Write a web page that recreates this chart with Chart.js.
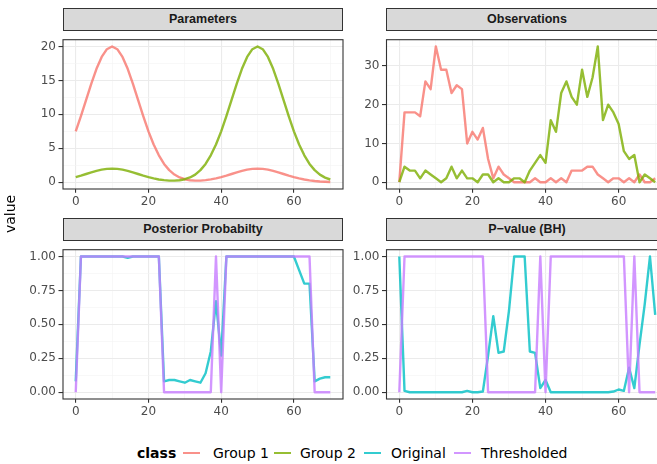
<!DOCTYPE html>
<html>
<head>
<meta charset="utf-8">
<script src="https://cdn.jsdelivr.net/npm/chart.js@4.4.1/dist/chart.umd.min.js"></script>
<style>
  body { margin: 0; width: 657px; height: 464px; overflow: hidden; background: #fff; position: relative; }
  canvas { position: absolute; }
  .strip {
    position: absolute; height: 23px; box-sizing: border-box;
    background: #D9D9D9; border: 1px solid #333;
    font: bold 12.5px "Liberation Sans", Arial, sans-serif; color: #1A1A1A;
    text-align: center; line-height: 21px;
  }
  .ytitle {
    position: absolute; left: -12px; top: 206px; width: 44px; text-align: center;
    font: 14px "DejaVu Sans", sans-serif; color: #000; transform: rotate(-90deg);
  }
  .legend { position: absolute; top: 444px; left: 0; width: 657px; height: 20px;
    font: 14px "DejaVu Sans", sans-serif; color: #000; }
  .legend span { position: absolute; top: 0; line-height: 18px; white-space: nowrap; }
  .legend .key { position: absolute; top: 8px; width: 17px; height: 2.3px; }
</style>
</head>
<body>

<div class="strip" style="left:63px;top:8px;width:280px">Parameters</div>
<div class="strip" style="left:386px;top:8px;width:282px">Observations</div>
<div class="strip" style="left:63px;top:218px;width:280px">Posterior Probabilty</div>
<div class="strip" style="left:386px;top:218px;width:282px">P−value (BH)</div>

<canvas id="params" width="345" height="182" style="left:0;top:30px"></canvas>
<canvas id="obs" width="340" height="182" style="left:330px;top:30px"></canvas>
<canvas id="post" width="345" height="182" style="left:0;top:240px"></canvas>
<canvas id="pval" width="340" height="182" style="left:330px;top:240px"></canvas>

<div class="ytitle">value</div>

<div class="legend">
  <span style="left:137px;font-weight:bold">class</span>
  <div class="key" style="left:183px;background:rgba(248,118,109,0.8)"></div>
  <span style="left:213px">Group 1</span>
  <div class="key" style="left:274px;background:rgba(124,174,0,0.8)"></div>
  <span style="left:300px">Group 2</span>
  <div class="key" style="left:364px;background:rgba(0,191,196,0.8)"></div>
  <span style="left:391px">Original</span>
  <div class="key" style="left:454px;background:rgba(199,124,255,0.8)"></div>
  <span style="left:481px">Thresholded</span>
</div>

<script>
// x positions shared by every panel
const xVals = [0, 1.43, 2.86, 4.29, 5.71, 7.14, 8.57, 10, 11.43, 12.86,
  14.29, 15.71, 17.14, 18.57, 20, 21.43, 22.86, 24.29, 25.71, 27.14,
  28.57, 30, 31.43, 32.86, 34.29, 35.71, 37.14, 38.57, 40, 41.43,
  42.86, 44.29, 45.71, 47.14, 48.57, 50, 51.43, 52.86, 54.29, 55.71,
  57.14, 58.57, 60, 61.43, 62.86, 64.29, 65.71, 67.14, 68.57, 70];
const xTicks = [0, 20, 40, 60];

// Parameters
const paramGroup1 = [7.50, 9.73, 12.13, 14.52, 16.71, 18.46, 19.60, 20.00, 19.60, 18.46,
  16.71, 14.52, 12.13, 9.73, 7.50, 5.56, 3.96, 2.70, 1.78, 1.13,
  0.70, 0.44, 0.29, 0.23, 0.24, 0.30, 0.41, 0.56, 0.75, 0.97,
  1.21, 1.45, 1.67, 1.85, 1.96, 2.00, 1.96, 1.85, 1.67, 1.45,
  1.21, 0.97, 0.75, 0.56, 0.40, 0.27, 0.18, 0.11, 0.07, 0.04];
const paramGroup2 = [0.75, 0.97, 1.21, 1.45, 1.67, 1.85, 1.96, 2.00, 1.96, 1.85,
  1.67, 1.45, 1.21, 0.97, 0.75, 0.56, 0.40, 0.30, 0.24, 0.23,
  0.29, 0.44, 0.70, 1.12, 1.78, 2.70, 3.96, 5.56, 7.50, 9.73,
  12.13, 14.52, 16.71, 18.46, 19.60, 20.00, 19.60, 18.46, 16.71, 14.52,
  12.13, 9.73, 7.50, 5.56, 3.96, 2.70, 1.78, 1.12, 0.68, 0.40];
const paramTicks = [0, 5, 10, 15, 20];

// Observations
const obsGroup1 = [0, 18, 18, 18, 17, 26, 24, 35, 29, 29,
  23, 25, 24, 10, 13, 11, 14, 6, 1, 4,
  2, 1, 0, 0, 0, 0, 1, 0, 0, 1,
  0, 1, 0, 3, 3, 3, 4, 4, 2, 1,
  0, 1, 1, 0, 1, 0, 2, 0, 0, 1];
const obsGroup2 = [0, 4, 3, 3, 1, 3, 2, 1, 0, 1,
  4, 1, 3, 1, 1, 0, 2, 2, 0, 1,
  0, 0, 1, 1, 0, 3, 5, 7, 5, 16,
  13, 23, 26, 22, 20, 29, 22, 27, 35, 16,
  20, 18, 15, 8, 6, 7, 0, 2, 1, 0];
const obsTicks = [0, 10, 20, 30];

// Posterior Probabilty
const postOriginal = [0.08, 1, 1, 1, 1, 1, 1, 1, 1, 1,
  0.99, 1, 1, 1, 1, 1, 1, 0.08, 0.09, 0.09,
  0.08, 0.07, 0.09, 0.08, 0.07, 0.14, 0.30, 0.67, 0.27, 1,
  1, 1, 1, 1, 1, 1, 1, 1, 1, 1,
  1, 1, 1, 0.90, 0.80, 0.80, 0.08, 0.10, 0.11, 0.11];
const postThresholded = [0, 1, 1, 1, 1, 1, 1, 1, 1, 1,
  1, 1, 1, 1, 1, 1, 1, 0, 0, 0,
  0, 0, 0, 0, 0, 0, 0, 1, 0, 1,
  1, 1, 1, 1, 1, 1, 1, 1, 1, 1,
  1, 1, 1, 1, 1, 1, 0, 0, 0, 0];

// P-value (BH)
const pvalOriginal = [1, 0.01, 0, 0, 0, 0, 0, 0, 0, 0,
  0, 0, 0, 0.01, 0, 0, 0.005, 0.27, 0.56, 0.29,
  0.30, 0.60, 1, 1, 1, 0.30, 0.29, 0.03, 0.09, 0,
  0, 0, 0, 0, 0, 0, 0, 0, 0, 0,
  0, 0.005, 0.02, 0.01, 0.18, 0.03, 0.35, 0.65, 1, 0.57];
const pvalThresholded = [0, 1, 1, 1, 1, 1, 1, 1, 1, 1,
  1, 1, 1, 1, 1, 1, 1, 0, 0, 0,
  0, 0, 0, 0, 0, 0, 0, 1, 0, 1,
  1, 1, 1, 1, 1, 1, 1, 1, 1, 1,
  1, 1, 1, 1, 0, 1, 0, 0, 0, 0];
const probTicks = [0, 0.25, 0.5, 0.75, 1];

const colors = {
  g1: 'rgba(248,118,109,0.8)',
  g2: 'rgba(124,174,0,0.8)',
  orig: 'rgba(0,191,196,0.8)',
  thr: 'rgba(199,124,255,0.8)'
};

function series(vals, color, order) {
  return {
    data: xVals.map((x, i) => ({ x: x, y: vals[i] })),
    borderColor: color,
    borderWidth: 2.4,
    borderJoinStyle: 'round',
    pointRadius: 0,
    tension: 0,
    fill: false,
    order: order
  };
}

// major ticks plus minor ones halfway between
function withMinor(major, lo, hi) {
  const step = major[1] - major[0];
  const out = [];
  for (let v = major[0] - step / 2; v <= hi + 1e-9; v += step / 2) {
    if (v >= lo - 1e-9) out.push(+v.toFixed(4));
  }
  return out;
}

function isMajor(v, major) {
  return major.some(m => Math.abs(m - v) < 1e-6);
}

const panelBorder = {
  id: 'panelBorder',
  afterDatasetsDraw(chart) {
    const a = chart.chartArea;
    const ctx = chart.ctx;
    ctx.save();
    ctx.strokeStyle = '#333333';
    ctx.lineWidth = 1.1;
    ctx.strokeRect(a.left, a.top, a.right - a.left, a.bottom - a.top);
    ctx.restore();
  }
};

function makePanel(id, datasets, yMajor, yMin, yMax, yAxisWidth, fmt) {
  const xMinor = withMinor(xTicks, -3.5, 73.5);
  const yAll = withMinor(yMajor, yMin, yMax);
  const gridFor = (major) => ({
    color: c => isMajor(c.tick.value, major) ? '#EBEBEB' : '#F3F3F3',
    lineWidth: c => isMajor(c.tick.value, major) ? 1.1 : 0.6,
    tickColor: c => isMajor(c.tick.value, major) ? '#333333' : 'rgba(0,0,0,0)',
    tickWidth: 1.1,
    drawTicks: true
  });
  return new Chart(document.getElementById(id), {
    type: 'line',
    data: { datasets: datasets },
    plugins: [panelBorder],
    options: {
      responsive: false,
      animation: false,
      layout: { padding: { top: 1, right: 2, left: 0, bottom: 0 } },
      plugins: { legend: { display: false }, tooltip: { enabled: false } },
      events: [],
      scales: {
        x: {
          type: 'linear',
          min: -3.5,
          max: 73.5,
          afterBuildTicks: s => { s.ticks = xMinor.map(v => ({ value: v })); },
          afterFit: s => { s.height = 23; },
          grid: Object.assign(gridFor(xTicks), { tickLength: 3.7 }),
          border: { display: false },
          ticks: {
            autoSkip: false,
            maxRotation: 0,
            padding: 2,
            color: '#4D4D4D',
            font: { family: 'DejaVu Sans', size: 12 },
            callback: v => isMajor(v, xTicks) ? String(v) : ''
          }
        },
        y: {
          type: 'linear',
          min: yMin,
          max: yMax,
          afterBuildTicks: s => { s.ticks = yAll.map(v => ({ value: v })); },
          afterFit: s => { s.width = yAxisWidth; },
          grid: Object.assign(gridFor(yMajor), { tickLength: 4.5 }),
          border: { display: false },
          ticks: {
            autoSkip: false,
            padding: 2.5,
            color: '#4D4D4D',
            font: { family: 'DejaVu Sans', size: 12 },
            callback: v => isMajor(v, yMajor) ? fmt(v) : ''
          }
        }
      }
    }
  });
}

const intFmt = v => String(Math.round(v));
const probFmt = v => v.toFixed(2);

makePanel('params', [series(paramGroup1, colors.g1, 2), series(paramGroup2, colors.g2, 1)],
  paramTicks, -1, 21, 63, intFmt);
makePanel('obs', [series(obsGroup1, colors.g1, 2), series(obsGroup2, colors.g2, 1)],
  obsTicks, -1.75, 36.75, 56.5, intFmt);
makePanel('post', [series(postOriginal, colors.orig, 2), series(postThresholded, colors.thr, 1)],
  probTicks, -0.05, 1.05, 63, probFmt);
makePanel('pval', [series(pvalOriginal, colors.orig, 2), series(pvalThresholded, colors.thr, 1)],
  probTicks, -0.05, 1.05, 56.5, probFmt);
</script>
</body>
</html>
